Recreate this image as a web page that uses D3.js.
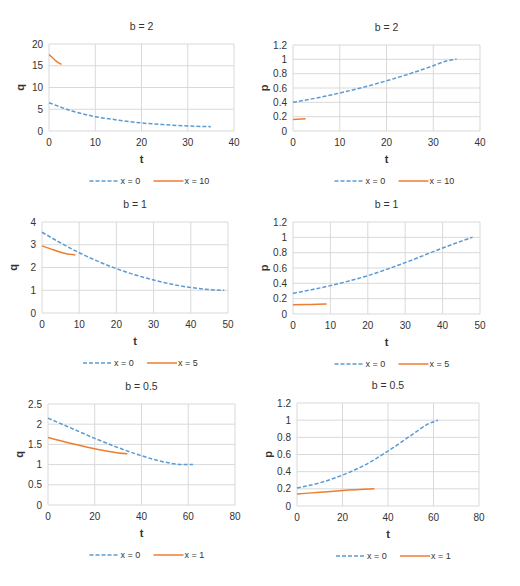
<!DOCTYPE html>
<html>
<head>
<script src="https://cdn.jsdelivr.net/npm/d3@7"></script>
<style>
  body { margin: 0; background: #fff; }
  text { font-family: "Liberation Sans", "DejaVu Sans", sans-serif; fill: #333; }
</style>
</head>
<body>
<svg id="chart" width="520" height="586"></svg>
<script>
"use strict";

// values: [t, value]
var q_b2_x0 = [[0,6.5],[5,4.6],[10,3.3],[15,2.5],[20,1.85],[25,1.45],[30,1.15],[35,1.0]];
var q_b2_x10 = [[0,17.6],[1,16.6],[2,15.7],[2.7,15.3]];
var p_b2_x0 = [[0,0.4],[5,0.46],[10,0.53],[15,0.61],[20,0.7],[25,0.8],[30,0.91],[33,0.98],[35,1.0]];
var p_b2_x10 = [[0,0.16],[2.7,0.17]];
var q_b1_x0 = [[0,3.55],[10,2.65],[20,1.95],[30,1.45],[40,1.12],[45,1.03],[49,1.0]];
var q_b1_x5 = [[0,2.95],[3,2.78],[6,2.63],[9,2.55]];
var p_b1_x0 = [[0,0.27],[10,0.37],[20,0.5],[30,0.67],[40,0.86],[45,0.95],[48,1.0]];
var p_b1_x5 = [[0,0.12],[5,0.125],[9,0.13]];
var q_b05_x0 = [[0,2.15],[10,1.9],[20,1.65],[30,1.42],[40,1.22],[50,1.06],[58,1.0],[62,1.0]];
var q_b05_x1 = [[0,1.67],[10,1.52],[20,1.39],[30,1.29],[34,1.27]];
var p_b05_x0 = [[0,0.21],[10,0.27],[20,0.36],[30,0.48],[40,0.64],[50,0.82],[58,0.96],[62,1.0]];
var p_b05_x1 = [[0,0.14],[10,0.16],[20,0.18],[34,0.2]];

var panels = [
  {title:"b = 2", ylab:"q", xmax:40, xstep:10, ymax:20, ystep:5, s0:q_b2_x0, s1:q_b2_x10, lab1:"x = 10", box:[49,44,234,131]},
  {title:"b = 2", ylab:"p", xmax:40, xstep:10, ymax:1.2, ystep:0.2, s0:p_b2_x0, s1:p_b2_x10, lab1:"x = 10", box:[293,45,480,131]},
  {title:"b = 1", ylab:"q", xmax:50, xstep:10, ymax:4, ystep:1, s0:q_b1_x0, s1:q_b1_x5, lab1:"x = 5", box:[42,222,228,313]},
  {title:"b = 1", ylab:"p", xmax:50, xstep:10, ymax:1.2, ystep:0.2, s0:p_b1_x0, s1:p_b1_x5, lab1:"x = 5", box:[293,222,480,314]},
  {title:"b = 0.5", ylab:"q", xmax:80, xstep:20, ymax:2.5, ystep:0.5, s0:q_b05_x0, s1:q_b05_x1, lab1:"x = 1", box:[48,404,235,505]},
  {title:"b = 0.5", ylab:"p", xmax:80, xstep:20, ymax:1.2, ystep:0.2, s0:p_b05_x0, s1:p_b05_x1, lab1:"x = 1", box:[297,403,479,506]}
];

var svg = d3.select("#chart");
var fmt = function(v){ return String(+v.toFixed(2)); };

panels.forEach(function(p){
  var b = p.box;
  var x = d3.scaleLinear().domain([0,p.xmax]).range([b[0],b[2]]);
  var y = d3.scaleLinear().domain([0,p.ymax]).range([b[3],b[1]]);
  var xt = d3.range(0, p.xmax + 1e-9, p.xstep);
  var yt = d3.range(0, p.ymax + 1e-9, p.ystep);
  var g = svg.append("g");

  g.selectAll(".gx").data(xt).join("line").attr("x1",x).attr("x2",x)
    .attr("y1",b[1]).attr("y2",b[3]).attr("stroke","#d9d9d9");
  g.selectAll(".gy").data(yt).join("line").attr("y1",y).attr("y2",y)
    .attr("x1",b[0]).attr("x2",b[2]).attr("stroke","#d9d9d9");

  g.selectAll(".tx").data(xt).join("text").attr("x",x).attr("y",b[3]+15)
    .attr("text-anchor","middle").attr("font-size",10).text(fmt);
  g.selectAll(".ty").data(yt).join("text").attr("x",b[0]-6).attr("y",function(d){return y(d)+3.5;})
    .attr("text-anchor","end").attr("font-size",10).text(fmt);

  var line = d3.line().x(function(d){return x(d[0]);}).y(function(d){return y(d[1]);}).curve(d3.curveMonotoneX);
  g.append("path").attr("d",line(p.s0)).attr("fill","none").attr("stroke","#5b9bd5")
    .attr("stroke-width",1.5).attr("stroke-dasharray","4,2");
  g.append("path").attr("d",line(p.s1)).attr("fill","none").attr("stroke","#ed7d31")
    .attr("stroke-width",1.5);

  var cx = (b[0]+b[2])/2;
  g.append("text").attr("x",cx).attr("y",b[1]-14).attr("text-anchor","middle").attr("font-size",10.5).text(p.title);
  g.append("text").attr("x",cx).attr("y",b[3]+32).attr("text-anchor","middle").attr("font-size",11).attr("font-weight","bold").text("t");
  g.append("text").attr("transform","translate("+(b[0]-25)+","+((b[1]+b[3])/2)+") rotate(-90)")
    .attr("text-anchor","middle").attr("font-size",11).attr("font-weight","bold").text(p.ylab);

  var ly = b[3]+50, lx = cx-52;
  g.append("line").attr("x1",lx).attr("x2",lx+30).attr("y1",ly).attr("y2",ly)
    .attr("stroke","#5b9bd5").attr("stroke-width",1.5).attr("stroke-dasharray","4,2");
  g.append("text").attr("x",lx+31).attr("y",ly+3).attr("font-size",9).text("x = 0");
  g.append("line").attr("x1",lx+64).attr("x2",lx+94).attr("y1",ly).attr("y2",ly)
    .attr("stroke","#ed7d31").attr("stroke-width",1.5);
  g.append("text").attr("x",lx+95).attr("y",ly+3).attr("font-size",9).text(p.lab1);
});
</script>
</body>
</html>
